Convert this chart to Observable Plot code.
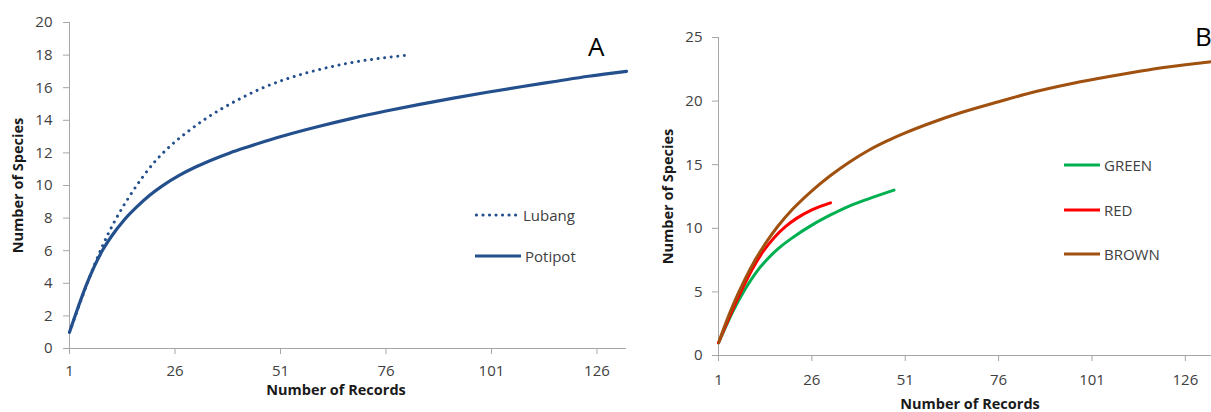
<!DOCTYPE html>
<html>
<head>
<meta charset="utf-8">
<script src="https://cdn.jsdelivr.net/npm/d3@7"></script>
<script src="https://cdn.jsdelivr.net/npm/@observablehq/plot@0.6"></script>
<style>
  body { margin: 0; background: #fff; font-family: "Open Sans", sans-serif; }
  #wrap { position: relative; width: 1211px; height: 412px; display: flex; overflow: hidden; background: #fff; }
  #wrap svg { display: block; }
  g[aria-label="y-axis label"] text, g[aria-label="x-axis label"] text { font-weight: bold; fill: #1a1a1a; font-size: 14.5px; }
  .letter { position: absolute; font-size: 26px; line-height: 26px; color: #000; }
  .leg { position: absolute; height: 20px; display: flex; align-items: center; font-size: 15px; color: #404040; }
  .leg svg { margin-right: 4px; }
</style>
</head>
<body>
<div id="wrap"><div id="pa"></div><div id="pb"></div></div>
<script>
// ---------- Panel A data ----------
const recordsLubang  = [1, 4, 7, 9, 12, 15, 18, 21, 25, 29, 33, 37, 42, 46, 52, 60, 68, 76, 81];
const speciesLubang  = [1, 3.15, 5.2, 6.4, 7.95, 9.25, 10.4, 11.4, 12.45, 13.3, 14.05, 14.7, 15.4, 15.9, 16.5, 17.1, 17.55, 17.85, 18.0];
const recordsPotipot = [1, 3, 5, 7, 9, 11, 14, 17, 20, 23, 27, 31, 35, 39, 43, 47, 52, 60, 68, 76, 84, 92, 100, 108, 116, 124, 133];
const speciesPotipot = [1, 2.5, 3.9, 5.1, 6.1, 6.9, 7.9, 8.7, 9.4, 9.98, 10.62, 11.15, 11.6, 12.0, 12.35, 12.68, 13.07, 13.62, 14.12, 14.57, 14.98, 15.36, 15.72, 16.06, 16.38, 16.7, 17.0];

// ---------- Panel B data ----------
const recordsGreen  = [1, 3, 5, 8, 11, 14, 17, 21, 26, 31, 36, 41, 48];
const speciesGreen  = [1, 2.3, 3.55, 5.15, 6.5, 7.55, 8.4, 9.3, 10.25, 11.05, 11.75, 12.3, 13.0];
const recordsRed    = [1, 3, 5, 7, 10, 13, 16, 19, 22, 26, 31];
const speciesRed    = [1, 2.4, 3.75, 5.0, 6.75, 8.2, 9.3, 10.15, 10.8, 11.45, 12.0];
const recordsBrown  = [1, 3, 5, 8, 11, 14, 17, 21, 26, 31, 36, 41, 46, 51, 58, 66, 76, 86, 96, 106, 116, 126, 133];
const speciesBrown  = [1, 2.6, 4.05, 5.95, 7.6, 9.0, 10.2, 11.55, 12.95, 14.15, 15.2, 16.1, 16.85, 17.5, 18.3, 19.1, 19.95, 20.75, 21.4, 21.95, 22.45, 22.85, 23.1];

// ---------- ticks ----------
const xTicks  = [1, 26, 51, 76, 101, 126];
const yTicksA = [0, 2, 4, 6, 8, 10, 12, 14, 16, 18, 20];
const yTicksB = [0, 5, 10, 15, 20, 25];

const navy = "#23508c", green = "#00b050", red = "#ff0000", brown = "#a0500f";
const axisGray = "#a6a6a6", tickText = "#404040";

const rows = (xs, ys) => xs.map((x, i) => ({records: x, species: ys[i]}));

const styleCommon = {fontFamily: "Open Sans", fontSize: "15px", color: tickText, background: "white", overflow: "visible"};

const plotA = Plot.plot({
  width: 640, height: 412,
  marginLeft: 69, marginRight: 14, marginTop: 22, marginBottom: 64,
  style: styleCommon,
  x: {domain: [1, 133]},
  y: {domain: [0, 20]},
  marks: [
    Plot.axisY({ticks: yTicksA, tickSize: 6, tickPadding: 11, stroke: axisGray, fill: tickText,
      label: "Number of Species", labelAnchor: "center", labelArrow: "none", labelOffset: 57}),
    Plot.axisX({ticks: xTicks, tickSize: 6, tickPadding: 11, stroke: axisGray, fill: tickText,
      label: "Number of Records", labelAnchor: "center", labelArrow: "none", labelOffset: 46}),
    Plot.ruleX([1], {stroke: axisGray}),
    Plot.ruleY([0], {stroke: axisGray}),
    Plot.line(rows(recordsLubang, speciesLubang), {x: "records", y: "species", stroke: navy, strokeWidth: 3,
      strokeDasharray: "0.01 6.6", strokeLinecap: "round", curve: "monotone-x"}),
    Plot.line(rows(recordsPotipot, speciesPotipot), {x: "records", y: "species", stroke: navy, strokeWidth: 3.2, curve: "monotone-x"})
  ]
});

const plotB = Plot.plot({
  width: 571, height: 412,
  marginLeft: 78, marginRight: 0, marginTop: 37, marginBottom: 57,
  style: styleCommon,
  x: {domain: [1, 133]},
  y: {domain: [0, 25]},
  marks: [
    Plot.axisY({ticks: yTicksB, tickSize: 6, tickPadding: 10, stroke: axisGray, fill: tickText,
      label: "Number of Species", labelAnchor: "center", labelArrow: "none", labelOffset: 56}),
    Plot.axisX({ticks: xTicks, tickSize: 6, tickPadding: 13, stroke: axisGray, fill: tickText,
      label: "Number of Records", labelAnchor: "center", labelArrow: "none", labelOffset: 53}),
    Plot.ruleX([1], {stroke: axisGray}),
    Plot.ruleY([0], {stroke: axisGray}),
    Plot.line(rows(recordsGreen, speciesGreen), {x: "records", y: "species", stroke: green, strokeWidth: 3, curve: "monotone-x"}),
    Plot.line(rows(recordsRed, speciesRed), {x: "records", y: "species", stroke: red, strokeWidth: 3, curve: "monotone-x"}),
    Plot.line(rows(recordsBrown, speciesBrown), {x: "records", y: "species", stroke: brown, strokeWidth: 3, curve: "monotone-x", clip: true})
  ]
});

// shift x-axis titles horizontally to match the reference placement
function shiftLabel(svg, dx) {
  const g = svg.querySelector('g[aria-label="x-axis label"]');
  if (g) g.setAttribute("transform", ((g.getAttribute("transform") || "") + ` translate(${dx},0)`).trim());
}
shiftLabel(plotA, -12);
shiftLabel(plotB, 5);

const wrap = document.getElementById("wrap");
document.getElementById("pa").appendChild(plotA);
document.getElementById("pb").appendChild(plotB);

// Panel letters
function addLetter(t, left, top) {
  const d = document.createElement("div");
  d.className = "letter"; d.textContent = t;
  d.style.left = left + "px"; d.style.top = top + "px";
  wrap.appendChild(d);
}
addLetter("A", 588, 33);
addLetter("B", 1195, 23);

// Legends
function addLegend(label, color, left, cy, width, dotted) {
  const d = document.createElement("div");
  d.className = "leg";
  d.style.left = left + "px"; d.style.top = (cy - 10) + "px";
  const ns = "http://www.w3.org/2000/svg";
  const s = document.createElementNS(ns, "svg");
  s.setAttribute("width", width); s.setAttribute("height", 8);
  const l = document.createElementNS(ns, "line");
  l.setAttribute("x1", dotted ? 1.5 : 0); l.setAttribute("x2", dotted ? width - 1.5 : width);
  l.setAttribute("y1", 4); l.setAttribute("y2", 4);
  l.setAttribute("stroke", color); l.setAttribute("stroke-width", 3.2);
  if (dotted) { l.setAttribute("stroke-dasharray", "0.01 6.5"); l.setAttribute("stroke-linecap", "round"); }
  s.appendChild(l);
  d.appendChild(s);
  const sp = document.createElement("span"); sp.textContent = label;
  d.appendChild(sp);
  wrap.appendChild(d);
}
addLegend("Lubang", navy, 475, 215, 44, true);
addLegend("Potipot", navy, 475, 256, 46, false);
addLegend("GREEN", green, 1064, 165, 36, false);
addLegend("RED", red, 1064, 210, 36, false);
addLegend("BROWN", brown, 1064, 254, 36, false);
</script>
</body>
</html>
